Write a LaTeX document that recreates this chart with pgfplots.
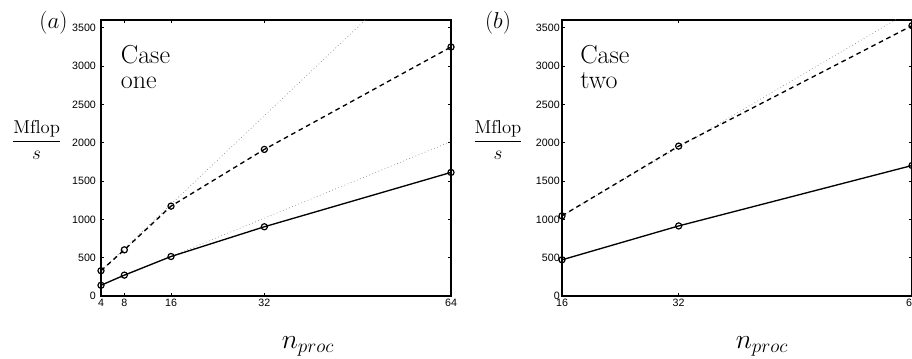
\documentclass[border=0pt]{standalone}
\usepackage{fontspec}
\setsansfont{Liberation Sans}
\usepackage{pgfplots}
\pgfplotsset{compat=1.18}
\pgfplotsset{
  myax/.style={
    scale only axis,
    width=262.5pt, height=207pt,
    anchor=south west,
    ymin=0, ymax=3600,
    ytick={0,500,1000,1500,2000,2500,3000,3500},
    axis line style={line width=1pt},
    major tick style={line width=0.4pt, black},
    major tick length=2.6pt,
    tick align=inside,
    /pgf/number format/assume math mode=true,
    /pgf/number format/1000 sep={},
    tick label style={font=\sffamily\fontsize{8}{9}\selectfont},
    xticklabel style={yshift=1pt},
    clip=true,
  },
  sol/.style={black, line width=1pt, mark=o, mark size=2.3pt, mark options={solid, line width=0.9pt}},
  das/.style={black, line width=1pt, dash pattern=on 3.5pt off 2.8pt, mark=o, mark size=2.3pt, mark options={solid, line width=0.9pt}},
  dot/.style={gray, line width=0.5pt, dotted, no marks},
}
\begin{document}
\begin{tikzpicture}
\begin{axis}[myax, at={(75.75pt,-222pt)}, xmin=4, xmax=64, xtick={4,8,16,32,64},
  yticklabel style={xshift=-0.3pt}]
\addplot[dot] coordinates {(4,140) (64,2015)};
\addplot[dot] coordinates {(4,330) (64,4662)};
\addplot[sol] coordinates {(4,140) (8,272) (16,515) (32,903) (64,1612)};
\addplot[das] coordinates {(4,330) (8,602) (16,1172) (32,1912) (64,3248)};
\end{axis}
\begin{axis}[myax, at={(421.5pt,-222pt)}, xmin=16, xmax=64, xtick={16,32,64},
  yticklabel style={xshift=1.8pt}]
\addplot[dot] coordinates {(16,1045) (64,3728)};
\addplot[sol] coordinates {(16,472) (32,914) (64,1702)};
\addplot[das] coordinates {(16,1045) (32,1955) (64,3526)};
\end{axis}
\node[font=\fontsize{19}{22}\selectfont] at (40.1pt,-17.25pt) {$(a)$};
\node[font=\fontsize{19}{22}\selectfont] at (373.5pt,-17.25pt) {$(b)$};
\node[font=\fontsize{14}{16}\selectfont] at (27.5pt,-105pt) {$\displaystyle\frac{\mathrm{Mflop}}{s}$};
\node[font=\fontsize{14}{16}\selectfont] at (373.5pt,-105pt) {$\displaystyle\frac{\mathrm{Mflop}}{s}$};
\node[font=\fontsize{21}{23}\selectfont] at (231pt,-259.5pt) {$n_{proc}$};
\node[font=\fontsize{21}{23}\selectfont] at (571.5pt,-259.5pt) {$n_{proc}$};
\node[anchor=north west, align=left, inner sep=0pt, font=\fontsize{19.5}{19}\selectfont] at (90.5pt,-33.75pt) {Case\\one};
\node[anchor=north west, align=left, inner sep=0pt, font=\fontsize{19.5}{19}\selectfont] at (435pt,-33.75pt) {Case\\two};
\pgfresetboundingbox
\path[use as bounding box] (0pt,0pt) rectangle (684pt,-269.25pt);
\end{tikzpicture}
\end{document}
